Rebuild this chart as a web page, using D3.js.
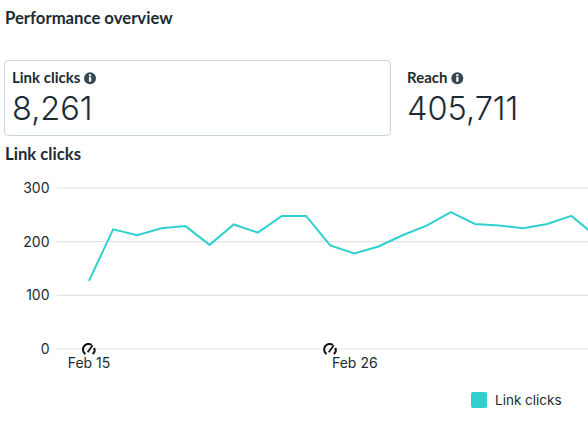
<!DOCTYPE html>
<html><head><meta charset="utf-8">
<script src="https://cdn.jsdelivr.net/npm/d3@7/dist/d3.min.js"></script>
<style>html,body{margin:0;padding:0;background:#fff;overflow:hidden}svg{display:block}text{font-family:Inter,sans-serif;fill:#1c2b33}.h{font-family:Lato,sans-serif}</style>
</head><body><div id="c"></div>
<script>
const title="Performance overview";
const metricNames=["Link clicks","Reach"];
const metricValues=["8,261","405,711"];
const chartTitle="Link clicks";
const values=[127,223,212,225,229,194,232,217,248,248,193,178,191,212,230,255,233,230,225,233,248,211];
const yTicks=[0,100,200,300];
const xTickDays=[0,11];
const xTickLabels=["Feb 15","Feb 26"];
const markerDays=[0,10];

const W=588,H=424;
const svg=d3.select("#c").append("svg").attr("width",W).attr("height",H);
const x=d3.scaleLinear().domain([0,21]).range([89,595.5]);
const y=d3.scaleLinear().domain([0,300]).range([349,188]);

svg.append("text").attr("class","h").attr("x",5).attr("y",24).attr("font-size",16.7).attr("font-weight",700).text(title);

svg.append("rect").attr("x",4.5).attr("y",60.5).attr("width",386).attr("height",75).attr("rx",4)
  .attr("fill","#fff").attr("stroke","#cbd2d9");

function info(cx,cy){
  const g=svg.append("g").attr("transform",`translate(${cx},${cy})`);
  g.append("circle").attr("r",6).attr("fill","#344854");
  g.append("rect").attr("x",-1.1).attr("y",-1.2).attr("width",2.3).attr("height",4.6).attr("fill","#fff");
  g.append("rect").attr("x",-1.1).attr("y",-4).attr("width",2.3).attr("height",2).attr("fill","#fff");
}
const labelX=[12,407],infoX=[90,457.3];
metricNames.forEach((m,i)=>{
  svg.append("text").attr("class","h").attr("x",labelX[i]).attr("y",83).attr("font-size",15).attr("font-weight",700).text(m);
  info(infoX[i],78.3);
  svg.append("text").attr("x",labelX[i]).attr("y",120).attr("font-size",32.5).attr("font-weight",300).text(metricValues[i]);
});

svg.append("text").attr("class","h").attr("x",5).attr("y",160).attr("font-size",16.7).attr("font-weight",700).text(chartTitle);

svg.append("g").selectAll("line").data(yTicks).join("line")
  .attr("x1",57).attr("x2",W).attr("y1",d=>y(d)).attr("y2",d=>y(d))
  .attr("stroke",d=>d===0||d===300?"#ebebeb":"#e2e2e2").attr("stroke-width",d=>d===0||d===300?1.6:1.2);
svg.append("g").selectAll("text").data(yTicks).join("text")
  .attr("x",49.5).attr("y",d=>y(d)+5).attr("text-anchor","end").attr("font-size",14).text(d=>d);

const line=d3.line().x((d,i)=>x(i)).y(d=>y(d));
svg.append("path").datum(values).attr("d",line).attr("fill","none").attr("stroke","#2fd0cf").attr("stroke-width",2);

const mk=svg.append("g").selectAll("g").data(markerDays).join("g").attr("transform",d=>`translate(${x(d)},${y(0)+0.5})`);
mk.append("path").attr("d","M-3.6 4.6 A5.3 5.3 0 0 1 2.6 -4.6").attr("fill","none").attr("stroke","#111").attr("stroke-width",2);
mk.append("path").attr("d","M5.1 -1.6 A5.3 5.3 0 0 1 3.6 4.6").attr("fill","none").attr("stroke","#111").attr("stroke-width",2);
mk.append("path").attr("d","M-1.4 2.8 L3.6 -4.2").attr("fill","none").attr("stroke","#111").attr("stroke-width",1.8);

svg.append("g").selectAll("text").data(xTickDays).join("text")
  .attr("x",d=>x(d)+(d?0.5:0)).attr("y",368).attr("text-anchor","middle").attr("font-size",14).text((d,i)=>xTickLabels[i]);

svg.append("rect").attr("x",471).attr("y",392).attr("width",16).attr("height",16).attr("rx",2).attr("fill","#2fd0cf");
svg.append("text").attr("x",495).attr("y",405).attr("font-size",13.5).text(chartTitle);
</script></body></html>
